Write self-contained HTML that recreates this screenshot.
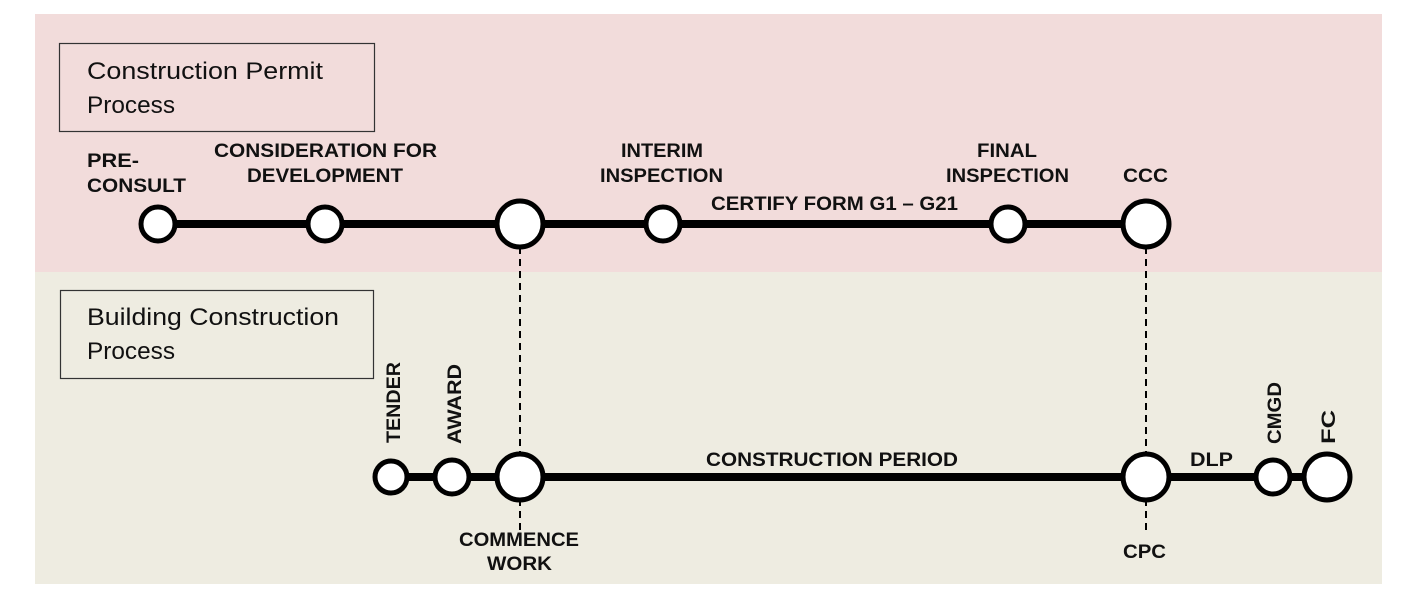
<!DOCTYPE html>
<html><head><style>
body{margin:0;width:1418px;height:590px;background:#fff;overflow:hidden}
svg{display:block}
.b{font-family:"Liberation Sans",Arial,sans-serif;font-weight:bold;font-size:19px;fill:#111}
.t{font-family:"Liberation Sans",Arial,sans-serif;font-size:24px;fill:#111}
</style></head><body>
<svg width="1418" height="590" viewBox="0 0 1418 590">
<rect x="35" y="14" width="1347" height="258" fill="#f2dcdb"/>
<rect x="35" y="272" width="1347" height="312" fill="#eeece1"/>
<rect x="59.5" y="43.5" width="315" height="88" fill="none" stroke="#333" stroke-width="1.2"/>
<rect x="60.5" y="290.5" width="313" height="88" fill="none" stroke="#333" stroke-width="1.2"/>
<text class="t" x="87" y="79" textLength="236" lengthAdjust="spacingAndGlyphs">Construction Permit</text>
<text class="t" x="87" y="113" textLength="88" lengthAdjust="spacingAndGlyphs">Process</text>
<text class="t" x="87" y="325" textLength="252" lengthAdjust="spacingAndGlyphs">Building Construction</text>
<text class="t" x="87" y="359" textLength="88" lengthAdjust="spacingAndGlyphs">Process</text>
<g stroke="#000" stroke-width="2" stroke-dasharray="7,5">
<line x1="520" y1="247" x2="520" y2="530"/>
<line x1="1146" y1="247" x2="1146" y2="530"/>
</g>
<line x1="158" y1="224" x2="1146" y2="224" stroke="#000" stroke-width="8"/>
<line x1="391" y1="477" x2="1327" y2="477" stroke="#000" stroke-width="8"/>
<g fill="#fff" stroke="#000" stroke-width="5">
<circle cx="158" cy="224" r="17"/><circle cx="325" cy="224" r="17"/><circle cx="520" cy="224" r="23"/>
<circle cx="663" cy="224" r="17"/><circle cx="1008" cy="224" r="17"/><circle cx="1146" cy="224" r="23"/>
<circle cx="391" cy="477" r="16"/><circle cx="452" cy="477" r="17"/><circle cx="520" cy="477" r="23"/>
<circle cx="1146" cy="477" r="23"/><circle cx="1273" cy="477" r="17"/><circle cx="1327" cy="477" r="23"/>
</g>
<g class="b" style="font-family:'Liberation Sans',Arial,sans-serif;font-weight:bold;font-size:19px">
<text class="b" x="87" y="167" textLength="52" lengthAdjust="spacingAndGlyphs">PRE-</text>
<text class="b" x="87" y="192" textLength="99" lengthAdjust="spacingAndGlyphs">CONSULT</text>
<text class="b" x="214" y="157" textLength="223" lengthAdjust="spacingAndGlyphs">CONSIDERATION FOR</text>
<text class="b" x="247" y="182" textLength="156" lengthAdjust="spacingAndGlyphs">DEVELOPMENT</text>
<text class="b" x="621" y="157" textLength="82" lengthAdjust="spacingAndGlyphs">INTERIM</text>
<text class="b" x="600" y="182" textLength="123" lengthAdjust="spacingAndGlyphs">INSPECTION</text>
<text class="b" x="711" y="210" textLength="247" lengthAdjust="spacingAndGlyphs">CERTIFY FORM G1 – G21</text>
<text class="b" x="977" y="157" textLength="60" lengthAdjust="spacingAndGlyphs">FINAL</text>
<text class="b" x="946" y="182" textLength="123" lengthAdjust="spacingAndGlyphs">INSPECTION</text>
<text class="b" x="1123" y="182" textLength="45" lengthAdjust="spacingAndGlyphs">CCC</text>
<text class="b" transform="translate(400,443) rotate(-90)" textLength="81" lengthAdjust="spacingAndGlyphs">TENDER</text>
<text class="b" transform="translate(461,444) rotate(-90)" textLength="80" lengthAdjust="spacingAndGlyphs">AWARD</text>
<text class="b" transform="translate(1281,444) rotate(-90)" textLength="62" lengthAdjust="spacingAndGlyphs">CMGD</text>
<text class="b" transform="translate(1335,444) rotate(-90)" textLength="34" lengthAdjust="spacingAndGlyphs">FC</text>
<text class="b" x="706" y="466" textLength="252" lengthAdjust="spacingAndGlyphs">CONSTRUCTION PERIOD</text>
<text class="b" x="1190" y="466" textLength="43" lengthAdjust="spacingAndGlyphs">DLP</text>
<text class="b" x="459" y="546" textLength="120" lengthAdjust="spacingAndGlyphs">COMMENCE</text>
<text class="b" x="487" y="570" textLength="65" lengthAdjust="spacingAndGlyphs">WORK</text>
<text class="b" x="1123" y="558" textLength="43" lengthAdjust="spacingAndGlyphs">CPC</text>
</g>
</svg>
</body></html>
